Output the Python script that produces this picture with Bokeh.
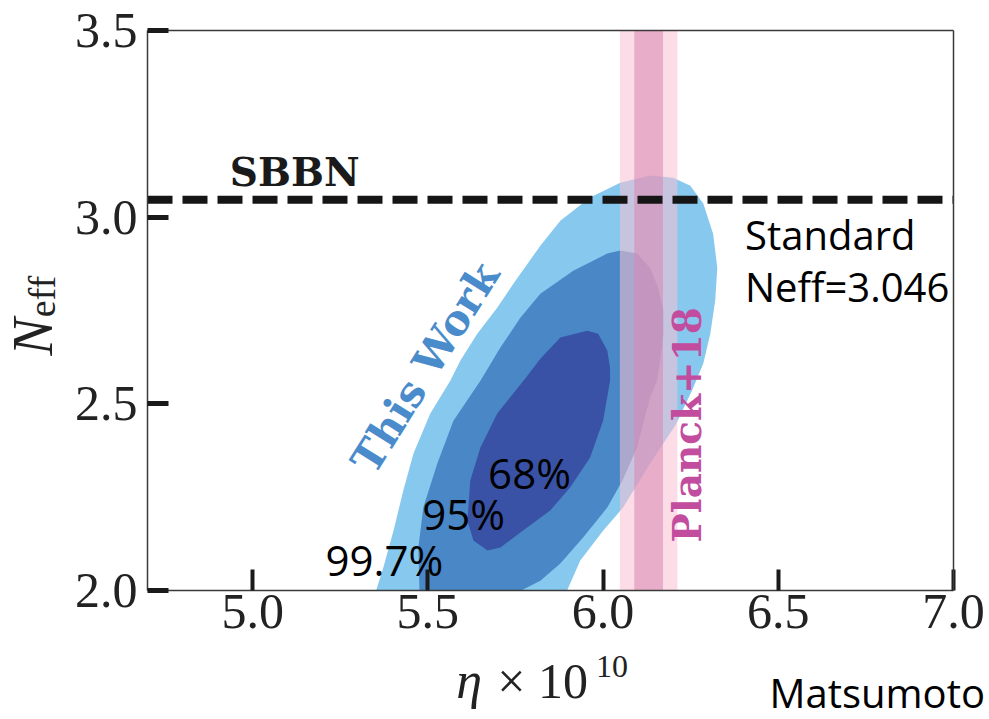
import math

from bokeh.embed import file_html
from bokeh.models import (ColumnDataSource, FixedTicker, Label, LinearAxis,
                          NumeralTickFormatter, Range1d)
from bokeh.plotting import figure
from bokeh.resources import INLINE

# --- data -----------------------------------------------------------------
# Confidence-region boundaries in the (eta x 1e10, N_eff) plane
eta_997 = [5.353, 5.373, 5.402, 5.430, 5.459, 5.507, 5.564, 5.593, 5.641, 5.698,
           5.744, 5.821, 5.878, 5.963, 6.049, 6.134, 6.200, 6.249, 6.286, 6.314,
           6.326, 6.320, 6.306, 6.286, 6.254, 6.206, 6.134, 6.057, 6.000, 5.935,
           5.898]
neff_997 = [2.000, 2.060, 2.159, 2.267, 2.366, 2.473, 2.561, 2.615, 2.687, 2.757,
            2.821, 2.923, 2.990, 3.052, 3.092, 3.111, 3.105, 3.084, 3.036, 2.955,
            2.864, 2.776, 2.687, 2.607, 2.535, 2.441, 2.339, 2.221, 2.159, 2.079,
            2.000]

eta_95 = [5.476, 5.473, 5.487, 5.527, 5.573, 5.650, 5.707, 5.764, 5.821, 5.915,
          6.012, 6.049, 6.097, 6.134, 6.157, 6.172, 6.172, 6.163, 6.154, 6.134,
          6.097, 6.055, 6.012, 5.943, 5.878, 5.821, 5.769]
neff_95 = [2.000, 2.114, 2.221, 2.339, 2.454, 2.561, 2.650, 2.730, 2.794, 2.856,
           2.902, 2.910, 2.902, 2.864, 2.811, 2.749, 2.687, 2.615, 2.561, 2.516,
           2.382, 2.293, 2.221, 2.141, 2.071, 2.025, 2.000]

eta_68 = [5.670, 5.630, 5.613, 5.621, 5.650, 5.698, 5.778, 5.821, 5.878, 5.955,
          5.986, 6.012, 6.020, 6.020, 6.000, 5.963, 5.906, 5.849, 5.821, 5.764,
          5.707]
neff_68 = [2.106, 2.133, 2.186, 2.293, 2.382, 2.473, 2.567, 2.620, 2.677, 2.695,
           2.687, 2.642, 2.596, 2.561, 2.454, 2.355, 2.275, 2.213, 2.194, 2.154,
           2.114]

region_labels = ["99.7%", "95%", "68%"]

# Planck 2018 baryon-to-photon ratio (x 1e10) and its 1-sigma error
planck_eta = 6.13
planck_sigma = 0.041

# Standard BBN effective number of neutrino species
sbbn_neff = 3.046

x_ticks = [5.0, 5.5, 6.0, 6.5, 7.0]
y_ticks = [2.0, 2.5, 3.0, 3.5]

# --- layout: axis box inside a full-canvas frame -----------------------------
W, H = 989, 719
BOX_L, BOX_R, BOX_T, BOX_B = 147, 953, 30, 589.5
x_lo, x_hi = 4.70, 7.0
y_lo, y_hi = 2.0, 3.5
sx = (BOX_R - BOX_L) / (x_hi - x_lo)
sy = (BOX_B - BOX_T) / (y_hi - y_lo)

p = figure(width=W, height=H,
           x_range=Range1d(x_lo - BOX_L / sx, x_hi + (W - BOX_R) / sx),
           y_range=Range1d(y_lo - (H - BOX_B) / sy, y_hi + BOX_T / sy),
           output_backend="svg", toolbar_location=None, min_border=0)
p.grid.visible = False
p.background_fill_color = "white"
p.border_fill_color = "white"
p.outline_line_color = None

SERIF = "Liberation Serif"
AX_COLOR = "#3a3a3a"


def style_axis(ax, ticks, tick_width, bounds, location):
    ax.fixed_location = location
    ax.bounds = bounds
    ax.ticker = FixedTicker(ticks=ticks)
    ax.formatter = NumeralTickFormatter(format="0.0")
    ax.axis_line_color = AX_COLOR
    ax.axis_line_width = 1.5
    ax.major_tick_in = 21
    ax.major_tick_out = 0
    ax.major_tick_line_width = tick_width
    ax.major_tick_line_color = "#1a1a1a"
    ax.minor_tick_line_color = None
    ax.major_label_text_font = SERIF
    ax.major_label_text_font_size = "50px"
    ax.major_label_text_color = "#222222"


style_axis(p.xaxis[0], x_ticks, 4, (x_lo, x_hi), y_lo)
style_axis(p.yaxis[0], y_ticks, 5, (y_lo, y_hi), x_lo)
p.xaxis.major_label_standoff = 5
p.yaxis.major_label_standoff = 10

# top and right edges of the box
for place, bounds, loc in (("above", (x_lo, x_hi), y_hi), ("right", (y_lo, y_hi), x_hi)):
    edge = LinearAxis(ticker=FixedTicker(ticks=[]), fixed_location=loc, bounds=bounds,
                      axis_line_color=AX_COLOR, axis_line_width=1.5,
                      major_tick_line_color=None, minor_tick_line_color=None,
                      major_label_text_font_size="0px")
    p.add_layout(edge, place)

# --- confidence regions ---------------------------------------------------
regions = ColumnDataSource(data=dict(
    xs=[eta_997, eta_95, eta_68],
    ys=[neff_997, neff_95, neff_68],
    color=["#87c8ee", "#4987c6", "#3952a5"],
))
p.patches("xs", "ys", source=regions, fill_color="color", line_color=None)

# --- Planck bands (2 sigma and 1 sigma) -----------------------------------
p.quad(left=[planck_eta - 2 * planck_sigma], right=[planck_eta + 2 * planck_sigma],
       bottom=[y_lo], top=[y_hi], fill_color="#fac1d3", fill_alpha=0.56, line_color=None)
p.quad(left=[planck_eta - planck_sigma], right=[planck_eta + planck_sigma],
       bottom=[y_lo], top=[y_hi], fill_color="#d888b2", fill_alpha=0.56, line_color=None)

# --- SBBN line ------------------------------------------------------------
p.line([x_lo, x_hi], [sbbn_neff, sbbn_neff], line_color="#151515", line_width=8,
       line_dash="25 10", line_cap="butt")

# --- annotations (anchored at the visual centre line of each text) ----------
BOLD_SERIF = "DejaVu Serif"
SANS = "Open Sans"


def add_text(x, y, text, font, size, color="black", style="normal", angle=0.0,
             align="left"):
    p.add_layout(Label(x=x, y=y, text=text, text_font=font, text_font_size=size,
                       text_font_style=style, text_color=color, angle=angle,
                       text_align=align, text_baseline="middle"))


add_text(4.935, 3.121, "SBBN", BOLD_SERIF, "39px", "#1a1a1a", "bold")
add_text(5.493, 2.596, "This Work", BOLD_SERIF, "42px", "#4a8bcb", "bold",
         angle=math.radians(58), align="center")
add_text(6.240, 2.443, "Planck+18", BOLD_SERIF, "39px", "#c24d9f", "bold",
         angle=math.pi / 2, align="center")

for txt, lx, ly in zip(region_labels, [5.208, 5.484, 5.672], [2.082, 2.206, 2.316]):
    add_text(lx, ly, txt, SANS, "42px")

add_text(6.405, 2.953, "Standard", SANS, "40px")
add_text(6.405, 2.814, "Neff=3.046", SANS, "40px")

# axis titles
add_text(5.581, 1.757, "η", SERIF, "52px", "#222222", "italic")
add_text(5.698, 1.757, "× 10", SERIF, "50px", "#222222")
add_text(5.980, 1.795, "10", SERIF, "32px", "#222222")

add_text(4.372, 2.629, "N", SERIF, "56px", "#222222", "italic", angle=math.pi / 2)
add_text(4.398, 2.731, "eff", SERIF, "38px", "#222222", angle=math.pi / 2)

add_text(6.475, 1.725, "Matsumoto", SANS, "40px")

open("out.html", "w").write(file_html(p, INLINE))
